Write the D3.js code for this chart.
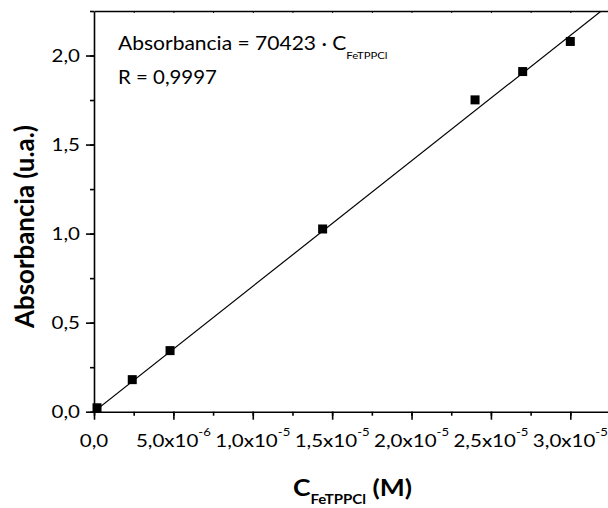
<!DOCTYPE html>
<html>
<head>
<meta charset="utf-8">
<script src="https://d3js.org/d3.v7.min.js"></script>
<style>
  body { margin: 0; background: #fff; }
  svg { display: block; font-family: Lato, "Open Sans", sans-serif; }
  .axis path, .axis line { stroke: #000; }
</style>
</head>
<body>
<svg id="chart" width="608" height="508"></svg>
<script>
// concentration (M) and absorbance (u.a.)
const conc = [1.9e-7, 2.41e-6, 4.79e-6, 1.44e-5, 2.40e-5, 2.70e-5, 3.00e-5];
const absorb = [0.022, 0.18, 0.343, 1.026, 1.751, 1.910, 2.079];
const slope = 70423;
const xTicks = [0, 5e-6, 1e-5, 1.5e-5, 2e-5, 2.5e-5, 3e-5];
const xTickLabels = [["0,0", ""], ["5,0x10", "-6"], ["1,0x10", "-5"], ["1,5x10", "-5"],
                     ["2,0x10", "-5"], ["2,5x10", "-5"], ["3,0x10", "-5"]];
const yTicks = [0, 0.5, 1.0, 1.5, 2.0];
const yTickLabels = ["0,0", "0,5", "1,0", "1,5", "2,0"];

const svg = d3.select("#chart");
const mLeft = 94, mRight = 610, mTop = 11, mBottom = 411.7;

const x = d3.scaleLinear().domain([0, 3.25e-5]).range([mLeft, mRight]);
const y = d3.scaleLinear().domain([0, 2.25]).range([mBottom, mTop]);

// the original text is a bit wide for its height, so stretch it sideways
function stretch(sel, k) {
  sel.each(function () {
    const t = d3.select(this);
    const x0 = +t.attr("x");
    t.attr("transform", "translate(" + x0 + ",0) scale(" + k + ",1) translate(" + (-x0) + ",0)");
  });
}

svg.append("clipPath").attr("id", "plotclip")
  .append("rect").attr("x", mLeft).attr("y", mTop)
  .attr("width", mRight - mLeft).attr("height", mBottom - mTop);

// minor ticks
const xMinor = d3.range(0, 3.25e-5, 2.5e-6);
const yMinor = d3.range(0, 2.26, 0.25);

// bottom axis
const gx = svg.append("g").attr("class", "axis")
  .attr("transform", "translate(0," + mBottom + ")");
gx.call(d3.axisBottom(x).tickValues(xMinor).tickSize(4).tickSizeOuter(0).tickFormat(""));
gx.append("g").call(d3.axisBottom(x).tickValues(xTicks).tickSize(8).tickFormat(""))
  .select(".domain").remove();
gx.selectAll("path, line").attr("stroke-width", 1.6);

const xl = svg.append("g").style("font-size", "18px");
xTicks.forEach((v, i) => {
  const t = xl.append("text")
    .attr("x", x(v)).attr("y", mBottom + 35)
    .attr("text-anchor", "middle").attr("fill", "#000");
  t.append("tspan").text(xTickLabels[i][0]);
  if (xTickLabels[i][1]) {
    t.append("tspan").text(xTickLabels[i][1])
      .attr("dy", -11).style("font-size", "11.5px");
  }
  stretch(t, 1.14);
});

// left axis
const gy = svg.append("g").attr("class", "axis")
  .attr("transform", "translate(" + mLeft + ",0)");
gy.call(d3.axisLeft(y).tickValues(yMinor).tickSize(4).tickSizeOuter(0).tickFormat(""));
gy.append("g").call(d3.axisLeft(y).tickValues(yTicks).tickSize(8).tickFormat(""))
  .select(".domain").remove();
gy.selectAll("path, line").attr("stroke-width", 1.6);

const yl = svg.append("g").style("font-size", "18px")
  .selectAll("text").data(yTicks).join("text")
  .attr("x", mLeft - 14).attr("y", d => y(d)).attr("dy", "0.35em")
  .attr("text-anchor", "end").attr("fill", "#000")
  .text((d, i) => yTickLabels[i]);
stretch(yl, 1.14);

// top frame with tiny inner ticks
const gt = svg.append("g").attr("class", "axis")
  .attr("transform", "translate(0," + mTop + ")");
gt.call(d3.axisTop(x).tickValues(xMinor.slice(1)).tickSize(-2).tickSizeOuter(0).tickFormat(""));
gt.selectAll("path").attr("stroke-width", 1.6);
gt.selectAll("line").attr("stroke-width", 1);

// fitted line
const plot = svg.append("g").attr("clip-path", "url(#plotclip)");
plot.append("line")
  .attr("x1", x(0)).attr("y1", y(0))
  .attr("x2", x(3.25e-5)).attr("y2", y(slope * 3.25e-5))
  .attr("stroke", "#000").attr("stroke-width", 1.2);

// points
svg.append("g").selectAll("rect").data(conc).join("rect")
  .attr("x", d => x(d) - 4.5)
  .attr("y", (d, i) => y(absorb[i]) - 4.5)
  .attr("width", 9).attr("height", 9)
  .attr("fill", "#000");

// annotation
const ann = svg.append("g").style("font-size", "18.5px").attr("fill", "#000");
const a1 = ann.append("text").attr("x", 118).attr("y", 50);
const a1main = a1.append("tspan").text("Absorbancia = " + slope + " \u00b7 C");
a1.append("tspan").text("FeTPPCl").attr("dy", 9).style("font-size", "10px");
stretch(a1, 228.5 / a1main.node().getComputedTextLength());
const a2 = ann.append("text").attr("x", 118).attr("y", 84).text("R = 0,9997");
stretch(a2, 99 / a2.node().getComputedTextLength());

// axis titles
const xt = svg.append("text")
  .attr("x", 352.5).attr("y", 496)
  .attr("text-anchor", "middle").attr("fill", "#000")
  .style("font-weight", "bold").style("font-size", "22px");
xt.append("tspan").text("C");
xt.append("tspan").text("FeTPPCl").attr("dy", 8).style("font-size", "12.5px");
xt.append("tspan").text(" (M)").attr("dy", -8);
stretch(xt, 119 / xt.node().getComputedTextLength());

const yt = svg.append("text")
  .attr("text-anchor", "middle").attr("fill", "#000")
  .style("font-weight", "bold").style("font-size", "22.5px")
  .text("Absorbancia (u.a.)");
const ytLen = yt.node().getComputedTextLength();
yt.attr("transform", "translate(33.5,226.5) rotate(-90) scale(" + (203 / ytLen) + ",1.2)");
</script>
</body>
</html>
